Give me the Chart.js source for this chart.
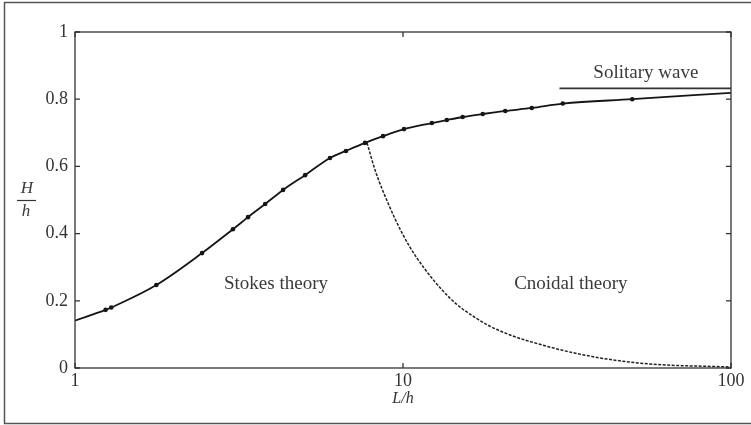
<!DOCTYPE html>
<html lang="en">
  <head>
    <meta charset="utf-8">
    <title>Wave height limit</title>
    <script src="https://cdn.jsdelivr.net/npm/chart.js@4"></script>
    <style>
        body { margin: 0; background: #fff; }
        #wrap { width: 751px; height: 425px; }
    </style>
  </head>
  <body>
    <div id="wrap"><canvas id="chart-1" width="751" height="425"></canvas></div>

    <script>
      // limiting curve H/h vs L/h (Stokes + matched branch)
      var limitX = [1, 1.24, 1.29, 1.77, 2.44, 3.03, 3.37, 3.80, 4.31, 5.03, 5.99, 6.70, 7.66, 8.69, 10.07, 12.25, 13.6, 15.2, 17.5, 20.5, 24.7, 30.7, 50, 100];
      var limitY = [0.141, 0.173, 0.180, 0.247, 0.342, 0.413, 0.449, 0.488, 0.530, 0.574, 0.625, 0.646, 0.670, 0.690, 0.711, 0.729, 0.738, 0.747, 0.756, 0.765, 0.774, 0.787, 0.800, 0.819];
      // dots along the curve
      var dotX = [1.24, 1.29, 1.77, 2.44, 3.03, 3.37, 3.80, 4.31, 5.03, 5.99, 6.70, 7.66, 8.69, 10.07, 12.25, 13.6, 15.2, 17.5, 20.5, 24.7, 30.7, 50];
      var dotY = [0.173, 0.180, 0.247, 0.342, 0.413, 0.449, 0.488, 0.530, 0.574, 0.625, 0.646, 0.670, 0.690, 0.711, 0.729, 0.738, 0.747, 0.756, 0.765, 0.774, 0.787, 0.800];
      // cnoidal branch
      var cnoidalX = [7.77, 8.22, 9.0, 9.93, 11.03, 13.9, 16.6, 19.8, 28.1, 39.9, 56.6, 100];
      var cnoidalY = [0.670, 0.589, 0.491, 0.402, 0.327, 0.208, 0.150, 0.110, 0.062, 0.030, 0.012, 0.003];
      // solitary wave limit
      var solitaryX = [30, 100];
      var solitaryY = [0.832, 0.832];

      var yTicks = [0, 0.2, 0.4, 0.6, 0.8, 1];
      var xLabels = [1, 10, 100];
      var regionLabels = [
        { text: 'Stokes theory', x: 4.1, y: 0.25 },
        { text: 'Cnoidal theory', x: 32.5, y: 0.25 },
        { text: 'Solitary wave', x: 55, y: 0.878 }
      ];

      function pts(xs, ys) {
        return xs.map(function (x, i) { return { x: x, y: ys[i] }; });
      }

      var serif = '"Liberation Serif", "DejaVu Serif", serif';
      var ink = '#151515';

      var framePlugin = {
        id: 'frame',
        afterDraw: function (chart) {
          var ctx = chart.ctx, a = chart.chartArea;
          var xs = chart.scales.x, ys = chart.scales.y;
          ctx.save();
          // outer picture border
          ctx.strokeStyle = '#555';
          ctx.lineWidth = 1.5;
          ctx.strokeRect(4.5, 2.5, 748, 421);
          // plot box
          ctx.strokeStyle = '#333';
          ctx.lineWidth = 1.3;
          ctx.strokeRect(a.left, a.top, a.right - a.left, a.bottom - a.top);
          // inward ticks
          ctx.beginPath();
          ys.ticks.forEach(function (t) {
            var p = ys.getPixelForValue(t.value);
            ctx.moveTo(a.left, p); ctx.lineTo(a.left + 5, p);
            ctx.moveTo(a.right, p); ctx.lineTo(a.right - 5, p);
          });
          xs.ticks.forEach(function (t) {
            var p = xs.getPixelForValue(t.value);
            var len = xLabels.indexOf(t.value) >= 0 ? 5 : 3;
            ctx.moveTo(p, a.bottom); ctx.lineTo(p, a.bottom - len);
            ctx.moveTo(p, a.top); ctx.lineTo(p, a.top + len);
          });
          ctx.stroke();
          // region labels
          ctx.fillStyle = '#3a3a3a';
          ctx.font = '19px ' + serif;
          ctx.textAlign = 'center';
          ctx.textBaseline = 'middle';
          regionLabels.forEach(function (l) {
            ctx.fillText(l.text, xs.getPixelForValue(l.x), ys.getPixelForValue(l.y));
          });
          // y title as a fraction H / h
          ctx.font = 'italic 17px ' + serif;
          ctx.fillText('H', 27, 189);
          ctx.fillText('h', 26, 212);
          ctx.beginPath();
          ctx.lineWidth = 1.2;
          ctx.moveTo(17, 200.5); ctx.lineTo(36, 200.5);
          ctx.stroke();
          ctx.restore();
        }
      };

      new Chart(document.getElementById('chart-1'), {
        type: 'scatter',
        data: {
          datasets: [
            {
              data: pts(limitX, limitY),
              showLine: true,
              borderColor: ink,
              borderWidth: 1.8,
              pointRadius: 0,
              cubicInterpolationMode: 'monotone'
            },
            {
              data: pts(dotX, dotY),
              showLine: false,
              pointRadius: 2.3,
              backgroundColor: ink,
              borderColor: ink,
              borderWidth: 0
            },
            {
              data: pts(cnoidalX, cnoidalY),
              showLine: true,
              borderColor: '#222',
              borderWidth: 1.5,
              borderDash: [3, 1.5],
              pointRadius: 0,
              cubicInterpolationMode: 'monotone'
            },
            {
              data: pts(solitaryX, solitaryY),
              showLine: true,
              borderColor: '#333',
              borderWidth: 1.8,
              pointRadius: 0
            }
          ]
        },
        options: {
          responsive: false,
          animation: false,
          layout: { padding: { top: 32, right: 20, left: 0, bottom: 0 } },
          plugins: { legend: { display: false }, tooltip: { enabled: false } },
          scales: {
            x: {
              type: 'logarithmic',
              min: 1,
              max: 100,
              grid: { display: false, drawTicks: false },
              border: { display: false },
              ticks: {
                autoSkip: false,
                maxRotation: 0,
                padding: 2,
                color: '#333',
                font: { family: serif, size: 18 },
                callback: function (v) { return xLabels.indexOf(v) >= 0 ? String(v) : null; }
              },
              title: {
                display: true,
                text: 'L/h',
                color: '#333',
                font: { family: serif, size: 16, style: 'italic' },
                padding: { top: 0, bottom: 17 }
              },
              afterFit: function (s) { s.height = 57; }
            },
            y: {
              min: 0,
              max: 1,
              grid: { display: false, drawTicks: false },
              border: { display: false },
              afterBuildTicks: function (s) {
                s.ticks = yTicks.map(function (v) { return { value: v }; });
              },
              ticks: {
                padding: 7,
                color: '#333',
                font: { family: serif, size: 18 },
                callback: function (v) { return String(v); }
              },
              afterFit: function (s) { s.width = 75; }
            }
          }
        },
        plugins: [framePlugin]
      });
    </script>
  </body>
</html>
